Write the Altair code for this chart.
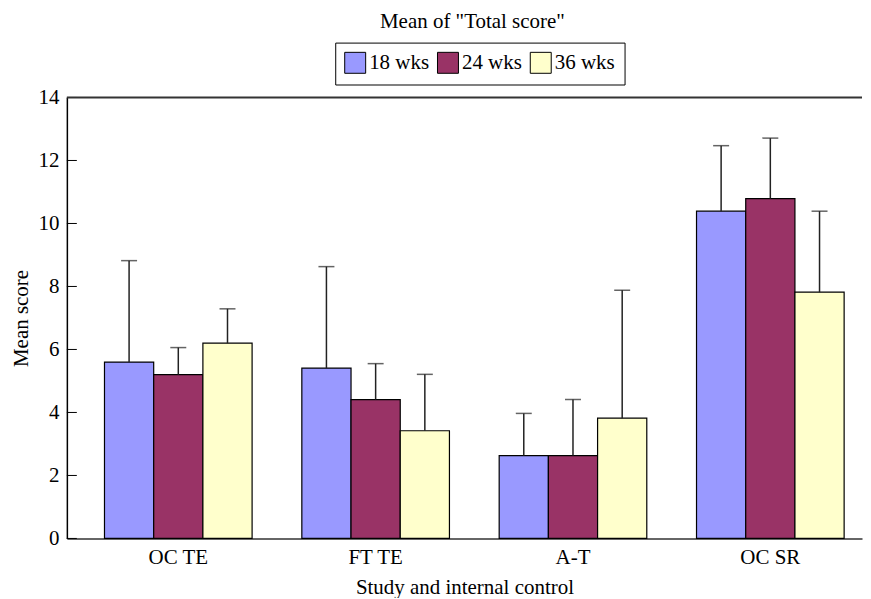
import altair as alt
import pandas as pd

categories = ["OC TE", "FT TE", "A-T", "OC SR"]
series = ["18 wks", "24 wks", "36 wks"]
mean_18 = [5.60, 5.41, 2.63, 10.39]
mean_24 = [5.20, 4.41, 2.63, 10.79]
mean_36 = [6.20, 3.42, 3.82, 7.82]
upper_18 = [8.82, 8.63, 3.97, 12.47]
upper_24 = [6.06, 5.55, 4.41, 12.71]
upper_36 = [7.29, 5.21, 7.88, 10.39]
colors = ["#9999FF", "#993366", "#FFFFCC"]
y_ticks = [0, 2, 4, 6, 8, 10, 12, 14]

rows = []
for s, m, u in zip(series, [mean_18, mean_24, mean_36], [upper_18, upper_24, upper_36]):
    for c, mv, uv in zip(categories, m, u):
        rows.append({"group": c, "series": s, "mean": mv, "upper": uv})
df = pd.DataFrame(rows)
ticks_df = pd.DataFrame({"t": y_ticks})
top_df = pd.DataFrame({"t": [14]})

FONT = "Liberation Serif"
FS = 21
W, H = 797, 442
YT = "Mean score"

x_enc = alt.X(
    "group:N",
    sort=categories,
    title="Study and internal control",
    scale=alt.Scale(paddingInner=0.252, paddingOuter=0.1406, align=0.678),
    axis=alt.Axis(labelAngle=0, ticks=False, labelPadding=8, titlePadding=9,
                  domainColor="#333333", domainWidth=1.5),
)
xo_enc = alt.XOffset("series:N", sort=series,
                     scale=alt.Scale(paddingInner=0, paddingOuter=0))
y_scale = alt.Scale(domain=[0, 14], nice=False, zero=True)
y_axis = alt.Axis(values=y_ticks, ticks=False, grid=False, labelPadding=8,
                  titlePadding=6, domainColor="black", domainWidth=1.5)

bars = alt.Chart(df).mark_bar(stroke="black", strokeWidth=1.2).encode(
    x=x_enc,
    xOffset=xo_enc,
    y=alt.Y("mean:Q", scale=y_scale, axis=y_axis, title=YT),
    color=alt.Color(
        "series:N",
        sort=series,
        scale=alt.Scale(domain=series, range=colors),
        legend=alt.Legend(
            orient="none", legendX=269, legendY=-55, direction="horizontal",
            title=None, strokeColor="black", fillColor="white", padding=9,
            symbolType="square", symbolSize=441, symbolStrokeColor="black",
            symbolStrokeWidth=1, symbolOpacity=1, labelFontSize=FS,
            labelFont=FONT, labelColor="black", labelOffset=3, columnPadding=5,
        ),
    ),
)

err = alt.Chart(df).mark_rule(color="#222222", strokeWidth=1.5).encode(
    x=x_enc,
    xOffset=xo_enc,
    y=alt.Y("mean:Q", scale=y_scale, axis=y_axis, title=YT),
    y2="upper:Q",
)

caps = alt.Chart(df).mark_tick(color="#222222", thickness=1.5, size=16,
                               orient="horizontal").encode(
    x=x_enc,
    xOffset=xo_enc,
    y=alt.Y("upper:Q", scale=y_scale, axis=y_axis, title=YT),
)

inner_ticks = alt.Chart(ticks_df).mark_rule(color="black", strokeWidth=1).encode(
    y=alt.Y("t:Q", scale=y_scale, axis=y_axis, title=YT),
    x=alt.value(0),
    x2=alt.value(10),
)

top_line = alt.Chart(top_df).mark_rule(color="#333333", strokeWidth=2).encode(
    y=alt.Y("t:Q", scale=y_scale, axis=y_axis, title=YT),
    x=alt.value(0),
    x2=alt.value(W),
)

chart = alt.layer(bars, err, caps, inner_ticks, top_line).properties(
    width=W,
    height=H,
    padding={"left": 3, "top": 2, "right": 0, "bottom": 0},
    title=alt.Title('Mean of "Total score"', font=FONT, fontSize=FS,
                    fontWeight="normal", color="black", anchor="middle",
                    offset=10, dx=8),
).configure_axis(
    labelFont=FONT, titleFont=FONT, labelFontSize=FS, titleFontSize=FS,
    labelColor="black", titleColor="black", titleFontWeight="normal",
).configure_view(stroke=None)

chart.save("out.html", embed_options={"renderer": "svg", "actions": False})
